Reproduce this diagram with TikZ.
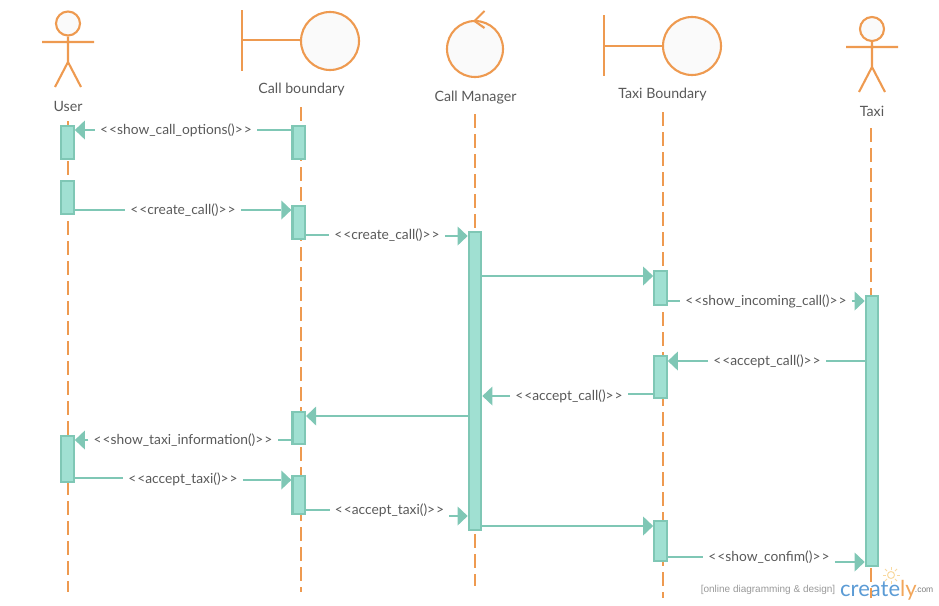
\documentclass[tikz,border=0pt]{standalone}
\usepackage{fontspec}
\setmainfont{Lato}
\newfontfamily\wmfont{Liberation Sans}
\usetikzlibrary{arrows.meta,calc}
\definecolor{org}{HTML}{EE9A50}
\definecolor{tealline}{HTML}{7FC7B5}
\definecolor{tealfill}{HTML}{A0E0D2}
\definecolor{txt}{HTML}{595959}
\definecolor{headfill}{HTML}{FAFAFA}
\definecolor{lgblue}{HTML}{5B9BD5}
\definecolor{lgorg}{HTML}{F2A65A}
\definecolor{lgsun}{HTML}{F8D9A0}
\newcommand{\stereo}[1]{<\kern1pt<#1>\kern1pt>}
\tikzset{
  x=1pt,y=-1pt,
  orgline/.style={draw=org,line width=2.1pt},
  head/.style={circle,draw=org,line width=2.1pt,fill=headfill,inner sep=0pt},
  life/.style={draw=org,line width=2.1pt,dash pattern=on 14pt off 6pt},
  bar/.style={rectangle,draw=tealline,line width=2.2pt,fill=tealfill,inner sep=0pt,minimum width=12.5pt},
  seg/.style={draw=tealline,line width=2.1pt},
  msg/.style={seg,-{Triangle[length=10pt,width=19pt,line width=0pt,fill=tealline]}},
  lbl/.style={text=txt,font=\fontsize{13.8}{15}\selectfont,inner sep=0pt,inner xsep=5pt,text height=11pt,text depth=2pt},
  actorname/.style={text=txt,font=\fontsize{14.2}{15}\selectfont,inner sep=0pt},
}
\begin{document}
\begin{tikzpicture}
\useasboundingbox (0,0) rectangle (939,605);
% watermark
\node[text=black!40,font=\wmfont\fontsize{10}{10}\selectfont,inner sep=0pt,anchor=east] (wm) at (835.5,590) {[online diagramming \& design]};
\node[font=\fontsize{22}{24}\selectfont,inner sep=0pt,anchor=base west,text=lgblue] (crea) at (840,596) {create\textcolor{lgorg}{ly}};
\node[text=black!50,font=\wmfont\fontsize{8.5}{10}\selectfont,inner sep=0pt,anchor=east] (com) at (933.5,590.5) {.com};
\node[circle,draw=lgsun,line width=1pt,minimum size=7pt,inner sep=0pt] (bulb) at (891,575) {};
\foreach \a in {0,45,...,315}{\draw[lgsun,line width=.8pt] ($(bulb)+(\a:5.5)$)--($(bulb)+(\a:8.5)$);}
% lifeline ends
\coordinate (l1a) at (68,121); \coordinate (l1b) at (68,592);
\coordinate (l2a) at (301,107); \coordinate (l2b) at (301,592);
\coordinate (l3a) at (475,114); \coordinate (l3b) at (475,586);
\coordinate (l4a) at (663,112); \coordinate (l4b) at (663,598);
\coordinate (l5a) at (871,128); \coordinate (l5b) at (871,598);
\draw[life] (l1a)--(l1b);
\draw[life] (l2a)--(l2b);
\draw[life] (l3a)--(l3b);
\draw[life] (l4a)--(l4b);
\draw[life] (l5a)--(l5b);
% User actor
\node[head,minimum size=24pt] (uh) at (68,23.5) {};
\coordinate (uw) at (68,62); \coordinate (ua1) at (42,42); \coordinate (ua2) at (94,42);
\coordinate (uf1) at (55,87); \coordinate (uf2) at (81,87);
\draw[orgline] (uh)--(uw) (ua1)--(ua2) (uf1)--(uw)--(uf2);
\node[actorname] (uname) at (68,106.5) {User};
% Taxi actor
\node[head,minimum size=24pt] (th) at (872,29) {};
\coordinate (tw) at (872,67); \coordinate (ta1) at (846,47); \coordinate (ta2) at (898,47);
\coordinate (tf1) at (859,92); \coordinate (tf2) at (885,92);
\draw[orgline] (th)--(tw) (ta1)--(ta2) (tf1)--(tw)--(tf2);
\node[actorname] (tname) at (872,111.5) {Taxi};
% Call boundary
\node[head,minimum size=58pt] (cb) at (330,41) {};
\coordinate (cbt) at (242,10); \coordinate (cbb) at (242,71); \coordinate (cbm) at (242,40);
\draw[orgline] (cbt)--(cbb) (cbm)--(cb.west |- cbm);
\node[actorname] (cbname) at (301.5,89.5) {Call boundary};
% Taxi boundary
\node[head,minimum size=58pt] (tb) at (692,46) {};
\coordinate (tbt) at (604,15); \coordinate (tbb) at (604,76); \coordinate (tbm) at (604,46);
\draw[orgline] (tbt)--(tbb) (tbm)--(tb);
\node[actorname] (tbname) at (662.5,94.5) {Taxi Boundary};
% Call manager
\node[head,minimum size=56pt] (cm) at (475,49) {};
\coordinate (cm1) at (484.5,11); \coordinate (cm2) at (474.5,21); \coordinate (cm3) at (484.5,28);
\draw[orgline] (cm1)--(cm2)--(cm3);
\node[actorname] (cmname) at (475.5,97.5) {Call Manager};
% activation bars
\newcommand{\barnode}[4]{\node[bar,minimum height=#4pt-#3pt] (#1) at (#2,{(#3+#4)/2}) {};}
\barnode{u1}{67.5}{126}{159}
\barnode{u2}{67.5}{181}{214}
\barnode{u3}{67.5}{436}{482}
\barnode{b1}{298.7}{126}{159}
\barnode{b2}{298.7}{206}{239}
\barnode{b3}{298.7}{412}{444}
\barnode{b4}{298.7}{476}{514}
\barnode{m1}{475}{232}{530}
\barnode{t1}{660.5}{271}{305}
\barnode{t2}{660.5}{356}{398}
\barnode{t3}{660.5}{521}{561}
\barnode{x1}{872}{296}{566}
% labels
\node[lbl] (m1l) at (176,130) {\stereo{show\_call\_options()}};
\node[lbl] (m2l) at (183,210) {\stereo{create\_call()}};
\node[lbl] (m3l) at (387,235) {\stereo{create\_call()}};
\node[lbl] (m5l) at (766,301) {\stereo{show\_incoming\_call()}};
\node[lbl] (m6l) at (767,361) {\stereo{accept\_call()}};
\node[lbl] (m7l) at (569,396) {\stereo{accept\_call()}};
\node[lbl] (m9l) at (183,440) {\stereo{show\_taxi\_information()}};
\node[lbl] (m10l) at (183,479) {\stereo{accept\_taxi()}};
\node[lbl] (m11l) at (389.5,510) {\stereo{accept\_taxi()}};
\node[lbl] (m13l) at (769,557) {\stereo{show\_confim()}};
% messages
\draw[seg] (b1.west |- m1l) -- (m1l);
\draw[msg] (m1l) -- (u1.east |- m1l);
\draw[seg] (u2.east |- m2l) -- (m2l);
\draw[msg] (m2l) -- (b2.west |- m2l);
\draw[seg] (b2.east |- m3l) -- (m3l);
\draw[msg] (m3l.east |- 0,236) -- (m1.west |- 0,236);
\draw[msg] (m1.east |- 0,276) -- (t1.west |- 0,276);
\draw[seg] (t1.east |- m5l) -- (m5l);
\draw[msg] (m5l) -- (x1.west |- m5l);
\draw[seg] (x1.west |- m6l) -- (m6l);
\draw[msg] (m6l) -- (t2.east |- m6l);
\draw[seg] (t2.west |- 0,394) -- (m7l.east |- 0,394);
\draw[msg] (m7l) -- (m1.east |- m7l);
\draw[msg] (m1.west |- 0,416) -- (b3.east |- 0,416);
\draw[seg] (b3.west |- m9l) -- (m9l);
\draw[msg] (m9l) -- (u3.east |- m9l);
\draw[seg] (u3.east |- 0,478) -- (m10l.west |- 0,478);
\draw[msg] (m10l.east |- 0,480) -- (b4.west |- 0,480);
\draw[seg] (b4.east |- m11l) -- (m11l);
\draw[msg] (m11l.east |- 0,516) -- (m1.west |- 0,516);
\draw[msg] (m1.east |- 0,526) -- (t3.west |- 0,526);
\draw[seg] (t3.east |- m13l) -- (m13l);
\draw[msg] (m13l.east |- 0,562) -- (x1.west |- 0,562);
\end{tikzpicture}
\end{document}
